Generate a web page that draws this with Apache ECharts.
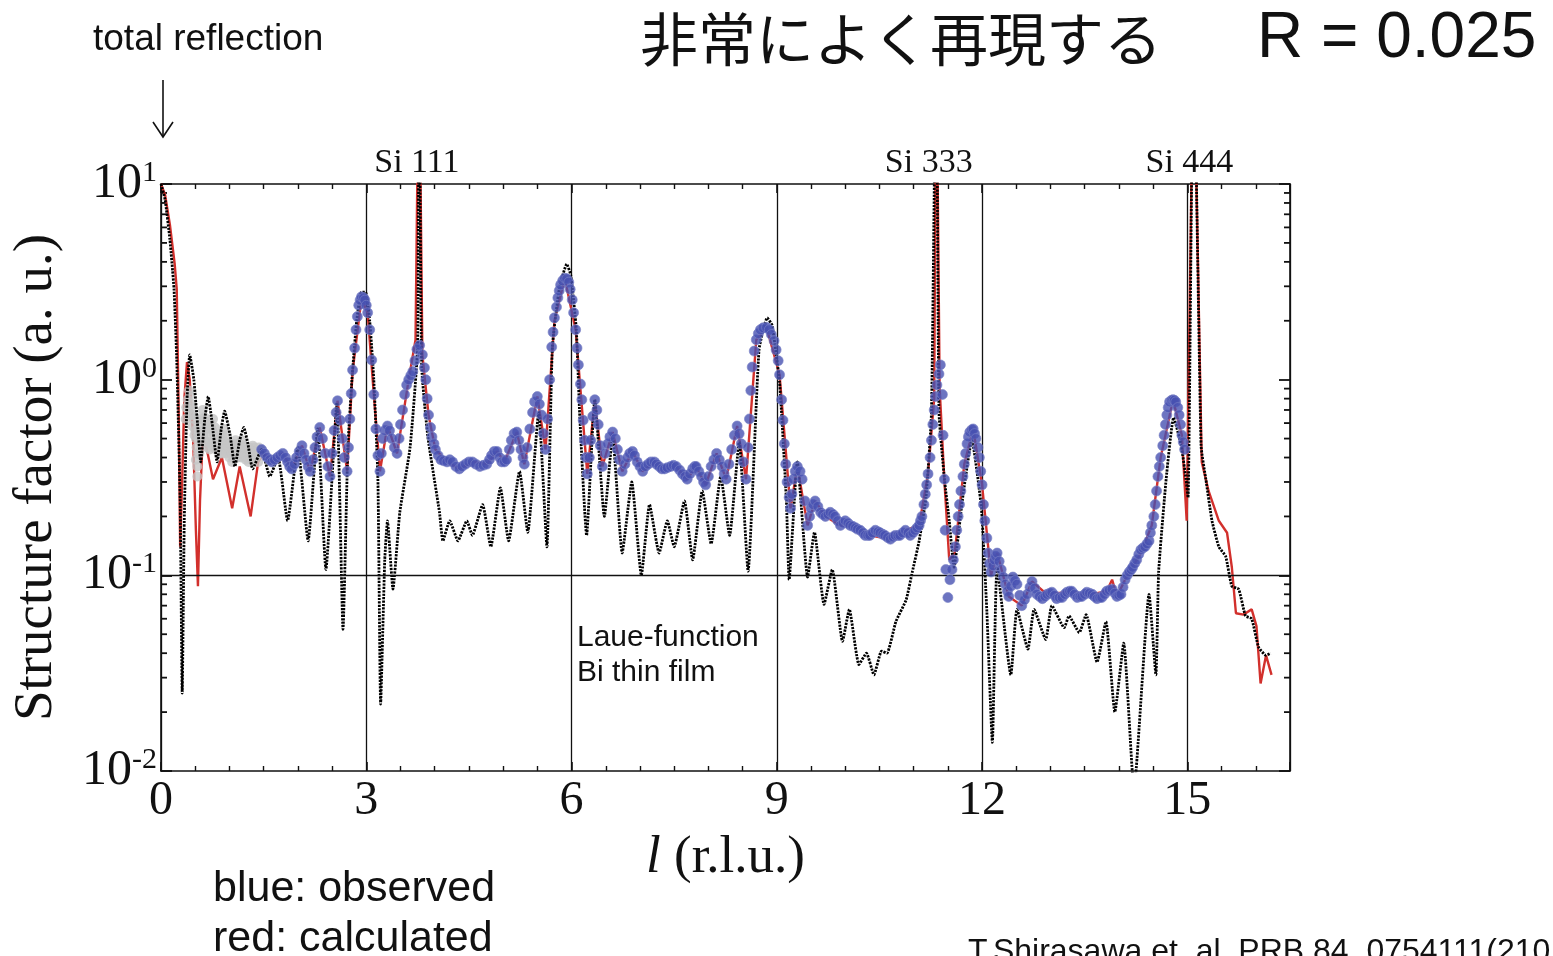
<!DOCTYPE html>
<html><head><meta charset="utf-8">
<script src="https://cdn.jsdelivr.net/npm/echarts@6/dist/echarts.min.js"></script>
<style>html,body{margin:0;padding:0;background:#fff;}#c{width:1553px;height:956px;}</style>
</head><body><div id="c"></div>
<script>
// ---- data (l in r.l.u., structure factor in a.u.) ----
const xTicks = [0, 3, 6, 9, 12, 15];
const siLabels = [['Si 111', 3.74], ['Si 333', 11.22], ['Si 444', 15.03]];
const minorY = [0.02,0.03,0.04,0.05,0.06,0.07,0.08,0.09,0.2,0.3,0.4,0.5,0.6,0.7,0.8,0.9,2,3,4,5,6,7,8,9];

// Laue function of Bi thin film (black)
const laueCurve = [
 [0,10],[0.06,8.3],[0.13,5.2],[0.19,2.9],[0.23,1.26],[0.28,0.24],[0.31,0.025],[0.34,0.19],[0.38,0.79],[0.42,1.34],
 [0.48,1.0],[0.54,0.56],[0.58,0.38],[0.64,0.63],[0.69,0.82],[0.74,0.63],[0.82,0.38],[0.88,0.56],[0.93,0.69],[1.01,0.52],
 [1.08,0.36],[1.15,0.49],[1.21,0.57],[1.27,0.47],[1.34,0.35],[1.47,0.44],[1.59,0.32],[1.71,0.40],[1.85,0.19],[2.0,0.45],
 [2.15,0.15],[2.29,0.56],[2.41,0.107],[2.57,0.76],[2.66,0.053],[2.73,0.44],[2.79,1.0],[2.86,2.0],[2.93,2.8],[2.99,2.8],
 [3.05,2.0],[3.11,1.0],[3.17,0.31],[3.21,0.022],[3.27,0.12],[3.31,0.19],[3.39,0.085],[3.49,0.21],[3.64,0.45],[3.75,1.47],
 [3.77,60],[3.81,1.16],[3.90,0.51],[4.07,0.21],[4.12,0.15],[4.22,0.19],[4.34,0.15],[4.47,0.19],[4.55,0.16],[4.70,0.23],
 [4.82,0.14],[4.96,0.28],[5.08,0.15],[5.24,0.34],[5.36,0.166],[5.52,0.68],[5.64,0.14],[5.72,1.47],[5.82,2.9],[5.93,3.9],
 [5.99,3.4],[6.07,1.8],[6.12,0.65],[6.22,0.16],[6.34,0.79],[6.48,0.2],[6.60,0.51],[6.74,0.13],[6.88,0.30],[7.02,0.1],
 [7.14,0.23],[7.28,0.13],[7.40,0.19],[7.50,0.14],[7.65,0.24],[7.77,0.12],[7.91,0.27],[8.04,0.145],[8.18,0.32],[8.31,0.16],
 [8.45,0.48],[8.58,0.105],[8.74,1.42],[8.86,2.07],[8.93,1.9],[9.04,0.97],[9.14,0.24],[9.18,0.095],[9.30,0.38],[9.45,0.098],
 [9.55,0.166],[9.69,0.071],[9.81,0.107],[9.96,0.046],[10.06,0.067],[10.20,0.035],[10.31,0.040],[10.42,0.031],[10.53,0.041],[10.61,0.040],
 [10.74,0.058],[10.89,0.075],[10.98,0.104],[11.08,0.15],[11.18,0.25],[11.26,0.68],[11.33,60],[11.37,0.68],[11.45,0.31],[11.52,0.19],
 [11.59,0.11],[11.71,0.24],[11.85,0.49],[11.99,0.22],[12.07,0.065],[12.15,0.014],[12.22,0.11],[12.42,0.031],[12.51,0.067],[12.67,0.042],
 [12.76,0.067],[12.93,0.047],[13.02,0.07],[13.20,0.054],[13.27,0.062],[13.42,0.051],[13.52,0.063],[13.68,0.036],[13.81,0.058],[13.94,0.020],
 [14.07,0.045],[14.22,0.008],[14.44,0.08],[14.54,0.031],[14.58,0.104],[14.69,0.31],[14.80,0.64],[14.91,0.46],[14.98,0.31],[15.01,0.25],
 [15.09,60],[15.20,0.46],[15.27,0.31],[15.36,0.19],[15.46,0.14],[15.56,0.125],[15.65,0.088],[15.75,0.085],[15.85,0.062],[15.94,0.060],
 [16.04,0.043],[16.15,0.039],[16.22,0.040]
];

// calculated (red)
const calcCurve = [
 [0,10],[0.06,8.8],[0.13,6.2],[0.2,3.9],[0.23,2.9],[0.26,0.63],[0.28,0.14],[0.31,0.31],[0.34,0.79],[0.38,1.23],
 [0.42,1.0],[0.47,0.5],[0.51,0.17],[0.54,0.088],[0.57,0.24],[0.61,0.51],[0.67,0.44],[0.76,0.31],[0.89,0.4],[1.04,0.22],
 [1.15,0.36],[1.31,0.2],[1.42,0.38],[1.5,0.42],[1.62,0.38],[1.78,0.42],[1.91,0.35],[2.06,0.46],[2.18,0.34],[2.32,0.57],
 [2.47,0.32],[2.58,0.78],[2.72,0.34],[2.8,1.1],[2.93,2.6],[3.02,2.2],[3.11,0.84],[3.2,0.34],[3.31,0.58],[3.45,0.42],
 [3.62,1.0],[3.72,1.6],[3.77,60],[3.82,1.34],[3.91,0.66],[4.01,0.44],[4.18,0.38],[4.36,0.35],[4.55,0.38],[4.76,0.37],
 [4.91,0.43],[5.02,0.38],[5.2,0.54],[5.31,0.37],[5.5,0.82],[5.62,0.44],[5.75,2.0],[5.9,3.3],[6.06,1.8],[6.23,0.33],
 [6.34,0.79],[6.45,0.36],[6.6,0.54],[6.74,0.34],[6.89,0.43],[7.04,0.34],[7.21,0.38],[7.36,0.35],[7.53,0.36],[7.69,0.31],
 [7.82,0.36],[7.96,0.29],[8.12,0.42],[8.26,0.31],[8.42,0.58],[8.55,0.31],[8.7,1.6],[8.85,1.85],[9.04,1.06],[9.2,0.22],
 [9.3,0.36],[9.45,0.18],[9.56,0.24],[9.71,0.2],[9.93,0.18],[10.1,0.18],[10.36,0.16],[10.66,0.153],[10.88,0.17],[11.08,0.18],
 [11.21,0.33],[11.3,0.8],[11.33,60],[11.38,0.9],[11.45,0.3],[11.52,0.12],[11.6,0.13],[11.74,0.37],[11.87,0.56],[12.0,0.29],
 [12.13,0.1],[12.22,0.13],[12.39,0.078],[12.58,0.07],[12.73,0.093],[12.95,0.08],[13.24,0.082],[13.61,0.08],[13.82,0.083],[13.9,0.095],
 [13.97,0.078],[14.09,0.095],[14.32,0.13],[14.48,0.18],[14.61,0.4],[14.79,0.79],[14.92,0.52],[14.99,0.19],[15.09,60],[15.21,0.38],
 [15.31,0.27],[15.46,0.19],[15.58,0.165],[15.65,0.11],[15.71,0.064],[15.82,0.063],[15.94,0.067],[16.01,0.055],[16.07,0.028],[16.15,0.039],
 [16.23,0.031]
];

// observed (blue)
const observed = [
 [1.47,0.44],[1.51,0.42],[1.55,0.40],[1.59,0.39],[1.62,0.38],[1.66,0.39],[1.70,0.40],[1.74,0.41],[1.78,0.42],[1.82,0.40],
 [1.85,0.38],[1.88,0.36],[1.91,0.35],[1.95,0.37],[1.98,0.40],[2.02,0.43],[2.06,0.46],[2.09,0.42],[2.12,0.39],[2.15,0.36],
 [2.18,0.34],[2.22,0.39],[2.25,0.45],[2.28,0.51],[2.32,0.57],[2.36,0.50],[2.40,0.42],[2.44,0.36],[2.47,0.32],[2.50,0.42],
 [2.53,0.55],[2.56,0.68],[2.58,0.78],[2.62,0.62],[2.65,0.50],[2.68,0.40],[2.72,0.34],[2.74,0.45],[2.76,0.63],[2.78,0.85],
 [2.80,1.12],[2.83,1.45],[2.85,1.8],[2.87,2.1],[2.89,2.4],[2.91,2.55],[2.93,2.65],[2.96,2.62],[2.98,2.55],[3.00,2.4],
 [3.02,2.2],[3.05,1.8],[3.08,1.26],[3.11,0.84],[3.14,0.56],[3.17,0.41],[3.20,0.34],[3.22,0.42],[3.24,0.5],[3.27,0.55],
 [3.31,0.58],[3.34,0.55],[3.37,0.5],[3.41,0.45],[3.45,0.42],[3.48,0.50],[3.50,0.59],[3.53,0.70],[3.56,0.84],[3.59,0.94],
 [3.62,1.0],[3.65,1.05],[3.68,1.1],[3.71,1.25],[3.74,1.43],[3.78,1.5],[3.82,1.34],[3.85,1.15],[3.87,1.0],[3.89,0.8],
 [3.91,0.66],[3.94,0.57],[3.96,0.51],[3.99,0.47],[4.01,0.44],[4.05,0.41],[4.09,0.39],[4.13,0.385],[4.18,0.38],[4.22,0.39],
 [4.26,0.38],[4.31,0.36],[4.36,0.35],[4.40,0.36],[4.45,0.37],[4.50,0.38],[4.55,0.38],[4.60,0.37],[4.66,0.36],[4.71,0.365],
 [4.76,0.37],[4.80,0.39],[4.83,0.41],[4.87,0.43],[4.91,0.43],[4.95,0.40],[4.98,0.38],[5.02,0.38],[5.05,0.39],[5.09,0.44],
 [5.12,0.49],[5.16,0.53],[5.20,0.54],[5.23,0.49],[5.26,0.44],[5.29,0.40],[5.31,0.37],[5.35,0.45],[5.39,0.56],[5.43,0.68],
 [5.46,0.77],[5.50,0.82],[5.53,0.75],[5.56,0.66],[5.59,0.53],[5.62,0.44],[5.65,0.63],[5.68,1.0],[5.71,1.47],[5.73,1.75],
 [5.75,2.07],[5.78,2.35],[5.80,2.62],[5.82,2.85],[5.84,3.05],[5.87,3.2],[5.90,3.3],[5.93,3.28],[5.96,3.15],[5.98,2.9],
 [6.01,2.56],[6.03,2.2],[6.06,1.8],[6.08,1.45],[6.10,1.19],[6.13,0.95],[6.15,0.79],[6.17,0.62],[6.19,0.49],[6.21,0.40],
 [6.23,0.33],[6.26,0.40],[6.28,0.49],[6.31,0.65],[6.34,0.79],[6.37,0.70],[6.39,0.59],[6.42,0.46],[6.45,0.36],[6.49,0.42],
 [6.53,0.47],[6.56,0.51],[6.60,0.54],[6.64,0.50],[6.67,0.44],[6.70,0.39],[6.74,0.34],[6.78,0.37],[6.82,0.40],[6.85,0.42],
 [6.89,0.43],[6.92,0.41],[6.96,0.38],[7.00,0.36],[7.04,0.34],[7.08,0.36],[7.12,0.37],[7.16,0.38],[7.21,0.38],[7.24,0.37],
 [7.28,0.36],[7.32,0.35],[7.36,0.35],[7.40,0.355],[7.45,0.36],[7.49,0.365],[7.53,0.36],[7.58,0.345],[7.62,0.33],[7.66,0.32],
 [7.69,0.31],[7.73,0.33],[7.77,0.35],[7.80,0.36],[7.82,0.36],[7.86,0.34],[7.90,0.32],[7.93,0.30],[7.96,0.29],[8.00,0.32],
 [8.04,0.36],[8.08,0.39],[8.12,0.42],[8.16,0.39],[8.20,0.36],[8.23,0.33],[8.26,0.31],[8.30,0.37],[8.34,0.44],[8.38,0.52],
 [8.42,0.58],[8.45,0.53],[8.48,0.47],[8.51,0.38],[8.55,0.31],[8.58,0.45],[8.60,0.63],[8.62,0.88],[8.64,1.16],[8.67,1.4],
 [8.70,1.6],[8.73,1.72],[8.76,1.8],[8.80,1.84],[8.85,1.85],[8.89,1.8],[8.92,1.7],[8.96,1.58],[8.99,1.42],[9.02,1.25],
 [9.04,1.06],[9.07,0.79],[9.09,0.62],[9.11,0.47],[9.13,0.37],[9.15,0.30],[9.18,0.25],[9.20,0.22],[9.22,0.26],[9.24,0.31],
 [9.27,0.34],[9.30,0.36],[9.34,0.34],[9.37,0.31],[9.41,0.24],[9.45,0.18],[9.48,0.20],[9.50,0.22],[9.53,0.23],[9.56,0.24],
 [9.60,0.225],[9.64,0.21],[9.67,0.205],[9.71,0.20],[9.75,0.205],[9.78,0.21],[9.82,0.205],[9.85,0.20],[9.89,0.19],[9.93,0.18],
 [9.97,0.185],[10.0,0.19],[10.04,0.185],[10.07,0.18],[10.11,0.178],[10.15,0.175],[10.18,0.172],[10.22,0.17],[10.26,0.165],[10.29,0.16],
 [10.33,0.16],[10.36,0.16],[10.40,0.165],[10.44,0.17],[10.48,0.167],[10.51,0.165],[10.55,0.162],[10.58,0.16],[10.62,0.156],[10.66,0.153],
 [10.70,0.157],[10.73,0.16],[10.77,0.16],[10.80,0.16],[10.84,0.165],[10.88,0.17],[10.92,0.165],[10.95,0.16],[10.99,0.165],[11.02,0.17],
 [11.05,0.175],[11.08,0.18],[11.10,0.19],[11.12,0.20],[11.15,0.23],[11.17,0.26],[11.19,0.29],[11.21,0.33],[11.24,0.40],[11.26,0.49],
 [11.28,0.59],[11.30,0.70],[11.32,0.82],[11.34,0.94],[11.37,1.07],[11.39,1.19],[11.42,0.84],[11.43,0.52],[11.45,0.31],[11.46,0.17],
 [11.47,0.107],[11.50,0.077],[11.53,0.095],[11.56,0.107],[11.58,0.12],[11.61,0.14],[11.63,0.17],[11.65,0.20],[11.67,0.23],[11.69,0.27],
 [11.72,0.32],[11.74,0.37],[11.76,0.42],[11.78,0.47],[11.80,0.51],[11.82,0.54],[11.85,0.555],[11.87,0.56],[11.89,0.53],[11.91,0.50],
 [11.94,0.45],[11.96,0.40],[11.98,0.34],[12.0,0.29],[12.02,0.23],[12.04,0.19],[12.07,0.155],[12.09,0.13],[12.11,0.115],[12.13,0.104],
 [12.16,0.112],[12.18,0.12],[12.20,0.125],[12.22,0.13],[12.25,0.118],[12.28,0.107],[12.31,0.098],[12.34,0.09],[12.37,0.083],[12.39,0.078],
 [12.42,0.088],[12.45,0.098],[12.48,0.094],[12.51,0.09],[12.55,0.079],[12.58,0.07],[12.62,0.075],[12.66,0.08],[12.70,0.087],[12.73,0.093],
 [12.77,0.086],[12.80,0.08],[12.84,0.078],[12.88,0.076],[12.92,0.078],[12.95,0.08],[12.99,0.081],[13.02,0.082],[13.06,0.079],[13.09,0.076],
 [13.13,0.077],[13.17,0.077],[13.21,0.08],[13.24,0.082],[13.28,0.083],[13.31,0.083],[13.35,0.08],[13.39,0.077],[13.43,0.078],[13.46,0.078],
 [13.50,0.08],[13.53,0.082],[13.57,0.081],[13.61,0.08],[13.64,0.078],[13.68,0.076],[13.72,0.077],[13.75,0.077],[13.79,0.08],[13.82,0.083],
 [13.86,0.084],[13.90,0.085],[13.94,0.081],[13.97,0.078],[14.00,0.079],[14.03,0.08],[14.06,0.087],[14.09,0.095],[14.12,0.10],[14.15,0.104],
 [14.18,0.107],[14.20,0.11],[14.23,0.115],[14.26,0.12],[14.29,0.128],[14.32,0.135],[14.35,0.138],[14.38,0.14],[14.41,0.145],[14.44,0.15],
 [14.46,0.165],[14.48,0.18],[14.51,0.20],[14.53,0.23],[14.55,0.27],[14.57,0.32],[14.59,0.36],[14.61,0.40],[14.64,0.46],[14.66,0.52],
 [14.68,0.59],[14.70,0.66],[14.72,0.72],[14.74,0.77],[14.77,0.785],[14.79,0.79],[14.81,0.785],[14.83,0.77],[14.86,0.72],[14.88,0.66],
 [14.90,0.59],[14.92,0.52],[14.94,0.48],[14.96,0.44]
];

// observed, low-l region (grey)
const observedLow = [
 [0.36,0.63],[0.37,0.72],[0.39,0.79],[0.40,0.70],[0.41,0.88],[0.42,0.83],[0.43,0.66],[0.44,0.72],[0.45,0.75],[0.46,0.58],
 [0.47,0.66],[0.48,0.63],[0.49,0.52],[0.50,0.55],[0.51,0.50],[0.51,0.39],[0.52,0.45],[0.53,0.32],[0.53,0.36],[0.54,0.42],
 [0.55,0.50],[0.56,0.42],[0.57,0.58],[0.58,0.63],[0.59,0.48],[0.60,0.55],[0.61,0.70],[0.62,0.52],[0.63,0.62],[0.64,0.64],
 [0.65,0.48],[0.66,0.58],[0.67,0.56],[0.68,0.45],[0.69,0.48],[0.70,0.52],[0.71,0.44],[0.72,0.60],[0.73,0.57],[0.74,0.47],
 [0.75,0.55],[0.76,0.63],[0.77,0.48],[0.78,0.52],[0.79,0.57],[0.80,0.44],[0.81,0.46],[0.82,0.52],[0.83,0.50],[0.85,0.42],
 [0.86,0.44],[0.87,0.50],[0.88,0.47],[0.89,0.42],[0.90,0.52],[0.91,0.46],[0.92,0.56],[0.93,0.44],[0.94,0.48],[0.95,0.42],
 [0.96,0.52],[0.98,0.47],[0.99,0.45],[1.00,0.40],[1.01,0.47],[1.02,0.43],[1.03,0.42],[1.04,0.38],[1.05,0.44],[1.06,0.40],
 [1.07,0.47],[1.08,0.42],[1.09,0.49],[1.10,0.45],[1.11,0.43],[1.12,0.40],[1.14,0.47],[1.15,0.42],[1.16,0.44],[1.17,0.40],
 [1.18,0.49],[1.19,0.44],[1.21,0.46],[1.22,0.41],[1.23,0.45],[1.24,0.39],[1.25,0.40],[1.26,0.43],[1.27,0.41],[1.28,0.38],
 [1.29,0.45],[1.30,0.41],[1.31,0.43],[1.33,0.39],[1.34,0.46],[1.35,0.42],[1.36,0.45],[1.37,0.40],[1.38,0.40],[1.39,0.43],
 [1.40,0.41],[1.42,0.38],[1.43,0.45],[1.44,0.42],[1.45,0.44]
];

const chart = echarts.init(document.getElementById('c'), null, {renderer: 'canvas'});
const serif = '"Liberation Serif", "DejaVu Serif", serif';
const sans = '"Liberation Sans", Arial, sans-serif';

function axisX(pos, showLabel) {
  return {
    type: 'value', position: pos, min: 0, max: 16.5, interval: 3,
    axisLine: {show: true, onZero: false, lineStyle: {color: '#111', width: 1.6}},
    axisTick: {show: true, inside: true, length: 9, lineStyle: {color: '#111', width: 1.6}},
    minorTick: {show: true, splitNumber: 6, length: 5, lineStyle: {color: '#111', width: 1.4}},
    axisLabel: {show: showLabel, fontFamily: serif, fontSize: 48, color: '#111', margin: 6,
      customValues: xTicks},
    splitLine: {show: showLabel, lineStyle: {color: '#111', width: 1.3}},
    name: showLabel ? '{i|l} (r.l.u.)' : '',
    nameLocation: 'middle', nameGap: 61,
    nameTextStyle: {fontFamily: serif, fontSize: 53, color: '#111',
      rich: {i: {fontFamily: serif, fontStyle: 'italic', fontSize: 53, color: '#111'}}}
  };
}
function axisY(pos, showLabel) {
  return {
    type: 'log', logBase: 10, position: pos, min: 0.01, max: 10,
    axisLine: {show: true, onZero: false, lineStyle: {color: '#111', width: 1.6}},
    axisTick: {show: true, inside: true, length: 11, lineStyle: {color: '#111', width: 1.8}},
    axisLabel: {show: showLabel, margin: 4,
      formatter: v => '{b|10}{s|' + Math.round(Math.log10(v)) + '}',
      rich: {b: {fontFamily: serif, fontSize: 50, color: '#111'},
             s: {fontFamily: serif, fontSize: 30, color: '#111', padding: [0, 0, 22, 0]}}},
    splitLine: {show: false},
    name: showLabel ? 'Structure factor (a. u.)' : '',
    nameLocation: 'middle', nameGap: 97, nameRotate: 90,
    nameTextStyle: {fontFamily: serif, fontSize: 55, color: '#111'}
  };
}

const option = {
  animation: false,
  backgroundColor: '#fff',
  grid: {left: 161, right: 263, top: 184, bottom: 185, containLabel: false},
  xAxis: [axisX('bottom', true), axisX('top', false)],
  yAxis: [axisY('left', true), axisY('right', false)],
  series: [
    {
      type: 'custom', xAxisIndex: 0, yAxisIndex: 0, clip: false, silent: true,
      data: minorY.map(v => [0, v]),
      renderItem: (params, api) => {
        const v = api.value(1);
        const p = api.coord([0, v]);
        const q = api.coord([16.5, v]);
        return {type: 'group', children: [
          {type: 'line', shape: {x1: p[0], y1: p[1], x2: p[0] + 6, y2: p[1]}, style: {stroke: '#111', lineWidth: 1.8}},
          {type: 'line', shape: {x1: q[0], y1: q[1], x2: q[0] - 6, y2: q[1]}, style: {stroke: '#111', lineWidth: 1.8}}
        ]};
      }
    },
    {
      name: 'calculated', type: 'line', data: calcCurve, showSymbol: false, symbol: 'none',
      lineStyle: {color: '#d2302c', width: 2.4}, z: 2
    },
    {
      name: 'observed low', type: 'scatter', data: observedLow, symbol: 'circle', symbolSize: 10,
      itemStyle: {color: '#c6c6c6'}, z: 3
    },
    {
      name: 'Laue', type: 'line', data: laueCurve, showSymbol: false, symbol: 'none', smooth: 0.15,
      lineStyle: {color: '#000', width: 2.8, type: [2.2, 1.2]}, z: 4,
      markLine: {silent: true, symbol: 'none', label: {show: false},
        lineStyle: {color: '#111', width: 1.3, type: 'solid'},
        data: [{yAxis: 0.1}]}
    },
    {
      name: 'observed', type: 'scatter', data: observed, symbol: 'circle', symbolSize: 10,
      itemStyle: {color: '#4751b2', borderColor: '#7a82c6', borderWidth: 0.8}, z: 5
    }
  ],
  graphic: [
    {type: 'text', left: 93, top: 21, style: {text: 'total reflection', font: '37px ' + sans, fill: '#111'}},
    {type: 'line', shape: {x1: 163, y1: 80, x2: 163, y2: 137}, style: {stroke: '#111', lineWidth: 1.6}},
    {type: 'polyline', shape: {points: [[153, 122], [163, 137], [173, 122]]}, style: {stroke: '#111', lineWidth: 1.6, fill: null}},
    {type: 'text', left: 640, top: 10, style: {text: '非常によく再現する', font: '58px "Noto Sans CJK JP", sans-serif', fill: '#111'}},
    {type: 'text', left: 1257, top: 7, style: {text: 'R = 0.025', font: '64px ' + sans, fill: '#111'}},
    {type: 'text', left: 577, top: 623, style: {text: 'Laue-function', font: '30px ' + sans, fill: '#111'}},
    {type: 'text', left: 577, top: 658, style: {text: 'Bi thin film', font: '30px ' + sans, fill: '#111'}},
    {type: 'text', left: 213, top: 868, style: {text: 'blue: observed', font: '43px ' + sans, fill: '#111'}},
    {type: 'text', left: 213, top: 918, style: {text: 'red: calculated', font: '43px ' + sans, fill: '#111'}},
    {type: 'text', left: 968, top: 936, style: {text: 'T.Shirasawa et. al. PRB 84, 0754111(2101)', font: '32px ' + sans, fill: '#111'}}
  ]
};
chart.setOption(option);

// Si reflection labels placed through the axis scale
const siGraphics = siLabels.map(([t, l]) => {
  const p = chart.convertToPixel({xAxisIndex: 0}, l);
  return {type: 'text', x: p, y: 163, style: {text: t, font: '34px ' + serif, fill: '#111', align: 'center', verticalAlign: 'middle'}};
});
chart.setOption({graphic: option.graphic.concat(siGraphics)});
</script>
</body></html>
